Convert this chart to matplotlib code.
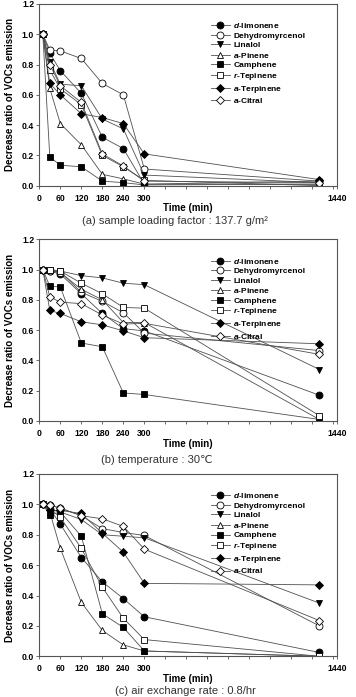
import numpy as np
import matplotlib
matplotlib.use("Agg")
import matplotlib.pyplot as plt

plt.rcParams["font.family"] = ["Liberation Sans", "DejaVu Sans"]
plt.rcParams["mathtext.fontset"] = "custom"
plt.rcParams["mathtext.bfit"] = "Liberation Sans:italic:bold"
plt.rcParams["mathtext.bf"] = "Liberation Sans:bold"

# ------------------------------------------------------------------
# data
# ------------------------------------------------------------------

times = [10, 30, 60, 120, 180, 240, 300, 1440]

compounds = [
    r"$\mathbfit{d}$-limonene",
    "Dehydromyrcenol",
    "Linalol",
    r"$\mathbfit{a}$-Pinene",
    "Camphene",
    r"$\mathbfit{r}$-Tepinene",
    r"$\mathbfit{a}$-Terpinene",
    r"$\mathbfit{a}$-Citral",
]

captions = [
    "(a) sample loading factor : 137.7 g/m\u00b2",
    "(b) temperature : 30\u2103",
    "(c) air exchange rate : 0.8/hr",
]

# panel (a) sample loading factor
loading = [
    [1.0, 0.874, 0.76, 0.61, 0.32, 0.245, 0.01, 0.03],
    [1.0, 0.896, 0.89, 0.84, 0.675, 0.60, 0.11, 0.03],
    [1.0, 0.82, 0.67, 0.66, 0.44, 0.375, 0.07, 0.02],
    [1.0, 0.643, 0.41, 0.27, 0.075, 0.045, 0.01, 0.01],
    [1.0, 0.19, 0.135, 0.125, 0.03, 0.02, 0.005, 0.01],
    [1.0, 0.763, 0.64, 0.535, 0.20, 0.125, 0.035, 0.0],
    [1.0, 0.676, 0.60, 0.475, 0.45, 0.41, 0.21, 0.04],
    [1.0, 0.80, 0.66, 0.55, 0.21, 0.13, 0.03, 0.02],
]

# panel (b) temperature
temperature = [
    [1.0, 0.99, 0.97, 0.84, 0.71, 0.61, 0.595, 0.17],
    [1.0, 0.99, 0.985, 0.85, 0.79, 0.715, 0.58, 0.465],
    [1.0, 1.0, 0.99, 0.96, 0.945, 0.91, 0.90, 0.34],
    [1.0, 0.995, 0.98, 0.87, 0.80, 0.65, 0.65, 0.01],
    [1.0, 0.89, 0.885, 0.515, 0.49, 0.185, 0.175, 0.01],
    [1.0, 1.0, 0.99, 0.91, 0.84, 0.75, 0.745, 0.035],
    [1.0, 0.73, 0.71, 0.655, 0.635, 0.595, 0.55, 0.51],
    [1.0, 0.82, 0.785, 0.775, 0.70, 0.64, 0.645, 0.44],
]

# panel (c) air exchange rate
air_exchange = [
    [1.0, 0.97, 0.87, 0.65, 0.49, 0.38, 0.26, 0.025],
    [1.0, 0.995, 0.975, 0.925, 0.84, 0.815, 0.795, 0.20],
    [1.0, 0.965, 0.95, 0.90, 0.80, 0.79, 0.78, 0.35],
    [1.0, 0.95, 0.71, 0.355, 0.17, 0.075, 0.035, 0.0],
    [1.0, 0.93, 0.95, 0.79, 0.28, 0.19, 0.035, 0.0],
    [1.0, 0.97, 0.915, 0.71, 0.455, 0.25, 0.11, 0.0],
    [1.0, 0.96, 0.96, 0.94, 0.81, 0.685, 0.48, 0.47],
    [1.0, 0.995, 0.975, 0.925, 0.905, 0.855, 0.705, 0.235],
]

panels = [loading, temperature, air_exchange]

markers = ["o", "o", "v", "^", "s", "s", "D", "D"]
faces = ["black", "white", "black", "white", "black", "white", "black", "white"]
sizes = [5.0, 5.0, 4.8, 4.8, 4.4, 4.4, 4.0, 4.0]

# ------------------------------------------------------------------
# compressed time axis: linear up to 300 min, squeezed after that
# ------------------------------------------------------------------

SQUEEZE = 0.4386


def forward(t):
    t = np.asarray(t, dtype=float)
    return np.where(t <= 300, t, 300 + (t - 300) * SQUEEZE)


def inverse(p):
    p = np.asarray(p, dtype=float)
    return np.where(p <= 300, p, 300 + (p - 300) / SQUEEZE)


x_end = float(inverse(851))
minor = [float(inverse(p)) for p in range(360, 851, 60)]

# ------------------------------------------------------------------
# figure
# ------------------------------------------------------------------

fig = plt.figure(figsize=(3.56, 6.97), dpi=100)

boxes = [
    [0.1104, 0.7336, 0.837, 0.2607],
    [0.1104, 0.3960, 0.837, 0.2607],
    [0.1104, 0.0584, 0.837, 0.2616],
]

caption_x = [175 / 356, 157 / 356, 185 / 356]
caption_y = [1 - 221 / 697, 1 - 459.7 / 697, 1 - 691.2 / 697]

for box, data, cap, cx, cy in zip(boxes, panels, captions, caption_x, caption_y):

    ax = fig.add_axes(box)
    ax.set_xscale("function", functions=(forward, inverse))

    for values, label, m, fc, ms in zip(data, compounds, markers, faces, sizes):
        ax.plot(
            times,
            values,
            color="#505050",
            linewidth=0.6,
            marker=m,
            markersize=ms,
            markerfacecolor=fc,
            markeredgecolor="black",
            markeredgewidth=0.6,
            label=label,
        )

    ax.set_xlim(0, x_end)
    ax.set_ylim(0, 1.2)

    ax.set_xticks([0, 60, 120, 180, 240, 300, x_end])
    ax.set_xticklabels(["0", "60", "120", "180", "240", "300", "1440"])
    ax.set_xticks(minor, minor=True)
    ax.set_yticks(np.arange(0, 1.21, 0.2))
    ax.set_yticklabels([f"{v:.1f}" for v in np.arange(0, 1.21, 0.2)])

    ax.tick_params(which="both", direction="out", length=2.2, width=0.6,
                   color="#555555", labelsize=6.2, pad=1.5)
    ax.tick_params(axis="x", pad=3.5)
    for lab in ax.get_xticklabels() + ax.get_yticklabels():
        lab.set_fontweight("bold")

    for sp in ax.spines.values():
        sp.set_linewidth(0.8)
        sp.set_color("#555555")

    ax.set_xlabel("Time (min)", fontsize=7, fontweight="bold", labelpad=0.5)
    ax.set_ylabel("Decrease ratio of VOCs emission", fontsize=7,
                  fontweight="bold", labelpad=5)

    ax.legend(
        loc="upper left",
        bbox_to_anchor=(0.575, 0.905),
        frameon=False,
        prop={"weight": "bold", "size": 6},
        handlelength=2.3,
        handletextpad=0.4,
        labelspacing=0.2,
        borderpad=0,
        borderaxespad=0,
    )

    fig.text(cx, cy, cap, fontsize=8.0, color="#333333", ha="center", va="center")

fig.savefig("out.png", dpi=100)
